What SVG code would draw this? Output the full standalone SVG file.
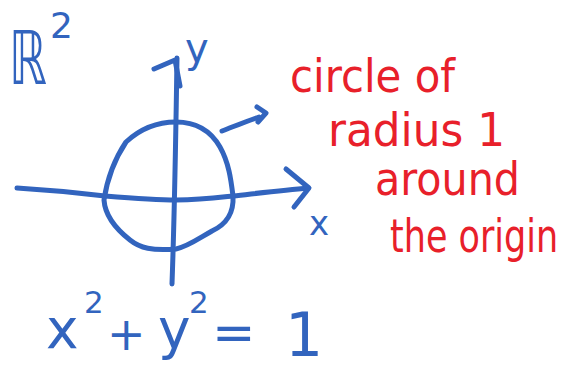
<svg xmlns="http://www.w3.org/2000/svg" width="563" height="377" viewBox="0 0 563 377">
<style>
.ink{fill:none;stroke:#3264BE;stroke-width:5;stroke-linecap:round;stroke-linejoin:round}
.b{fill:#3264BE;font-family:"DejaVu Sans",sans-serif}
.r{fill:#E8202A;font-family:"DejaVu Sans",sans-serif;font-size:46px}
</style>
<rect width="563" height="377" fill="#fff"/>
<g id="axes">
<path class="ink" d="M17,188 C50,190 80,193 105,196 C130,198 155,200 176,200 C200,200 215,198 233,196 C260,193 285,190 308,188"/>
<path class="ink" d="M286,169 L309,188 L294,207"/>
<path class="ink" d="M177,58 C176,120 175,200 172,284"/>
<path class="ink" d="M154,69 L175,60 L180,86"/>
</g>
<g id="circle">
<path class="ink" d="M176,122 C198,122 212,133 220,147 C229,163 231,180 233,196 C234,213 227,224 212,231 C198,239 187,247 176,249 C152,251 140,248 130,240 C116,229 105,215 104,200 C107,180 114,160 126,142 C140,129 158,122 176,122 Z"/>
</g>
<g id="pointer">
<path class="ink" d="M222,131 C235,126 247,121 259,117"/>
<path class="ink" d="M257,107 L266,113 L258,122"/>
</g>
<g id="labels">
<text class="b" transform="translate(9,84) scale(1,1.55)" font-size="48">ℝ</text>
<text class="b" x="50" y="38" font-size="36">2</text>
<text class="b" x="185" y="62" font-size="40">y</text>
<text class="b" x="309" y="235" font-size="34">x</text>
</g>
<g id="equation">
<text class="b" x="46" y="348" font-size="55">x</text>
<text class="b" x="84" y="313" font-size="31">2</text>
<text class="b" x="107" y="350" font-size="46">+</text>
<text class="b" x="158" y="348" font-size="55">y</text>
<text class="b" x="189" y="313" font-size="31">2</text>
<text class="b" x="212" y="350" font-size="52">=</text>
<text class="b" x="285" y="356" font-size="60">1</text>
</g>
<g id="note">
<text class="r" x="290" y="92" textLength="165" lengthAdjust="spacingAndGlyphs">circle of</text>
<text class="r" x="328" y="146" textLength="177" lengthAdjust="spacingAndGlyphs">radius 1</text>
<text class="r" x="375" y="195" textLength="145" lengthAdjust="spacingAndGlyphs">around</text>
<text class="r" transform="translate(390,252) scale(1,1.3)" font-size="35" style="font-size:35px">the origin</text>
</g>
</svg>
